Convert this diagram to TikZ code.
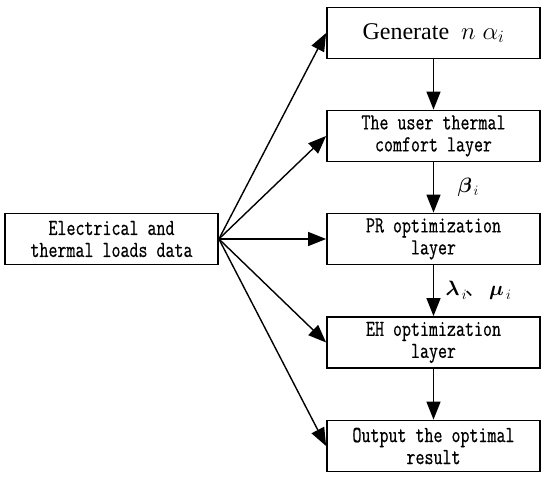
\documentclass[tikz,border=0pt]{standalone}
\usepackage{amsmath}
\usepackage{bm}
\usepackage{fontspec}
\newfontfamily\timesfont{Liberation Serif}
\newfontfamily\boxfont{Latin Modern Mono}[FakeStretch=0.76,FakeBold=0.6]
\newfontfamily\cjk{Noto Sans CJK SC}
\usetikzlibrary{arrows.meta}
\begin{document}
\begin{tikzpicture}[x=1pt,y=-1pt,
  box/.style={draw, line width=1.8pt, minimum width=213pt, minimum height=51pt, inner sep=0pt, align=center,
    font=\boxfont\fontsize{23}{22}\selectfont},
  arr/.style={line width=1.4pt, -{Triangle[length=18pt,width=14pt]}}]
\useasboundingbox (0,0) rectangle (550,478);
\node[box] (src) at (111.5,239) {Electrical and\\thermal loads data};
\node[box, font=\fontsize{24}{28}\selectfont\timesfont] (b1) at (433.5,33) {Generate \ $n\;\alpha_i$};
\node[box] (b2) at (433.5,136) {The user thermal\\comfort layer};
\node[box] (b3) at (433.5,239) {PR optimization\\layer};
\node[box] (b4) at (433.5,342.5) {EH optimization\\layer};
\node[box] (b5) at (433.5,446) {Output the optimal\\result};
\foreach \t in {b1,b2,b3,b4,b5} \draw[arr] (src.east) -- (\t.west);
\draw[arr] (b1) -- (b2);
\draw[arr] (b2) -- (b3) node[midway, right=20pt, font=\fontsize{20}{22}\selectfont] (lb) {$\bm{\beta}_{\,i}$};
\draw[arr] (b3) -- (b4) node[midway, right=8pt, font=\fontsize{20}{22}\selectfont] (ll) {$\bm{\lambda}_{\,i}$\hspace{-2pt}{\cjk 、}\hspace{4pt}$\bm{\mu}_{\,i}$};
\draw[arr] (b4) -- (b5);
\end{tikzpicture}
\end{document}
